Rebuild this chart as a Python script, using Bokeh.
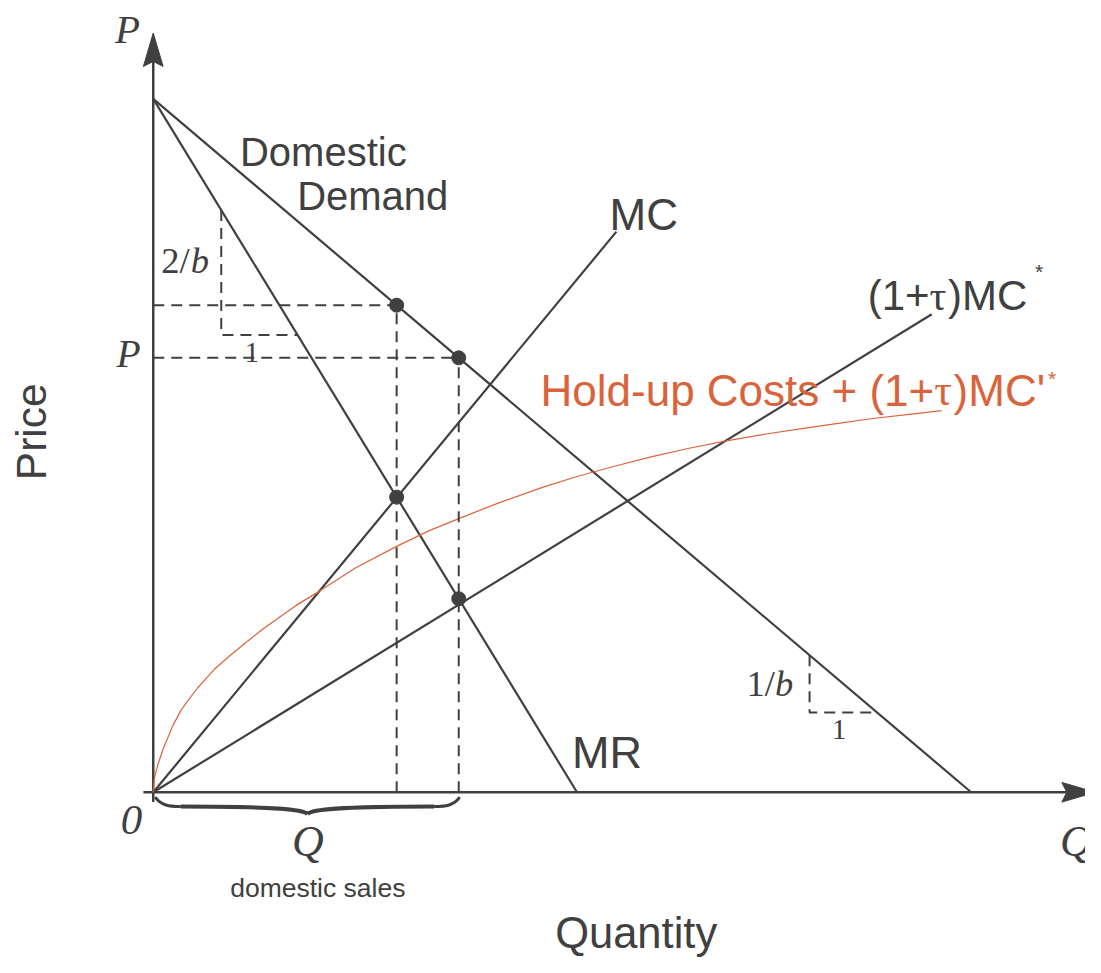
import numpy as np
from bokeh.plotting import figure
from bokeh.models import Range1d
from bokeh.core.properties import value
from bokeh.embed import file_html
from bokeh.resources import INLINE

# ---------------- data ----------------
demand_q = [0.0, 83.0]
demand_p = [70.5, 0.0]
mr_q = [0.0, 43.0]
mr_p = [70.5, 0.0]
mc_q = [0.0, 47.0]
mc_p = [0.0, 57.0]
mcs_q = [0.0, 79.0]          # (1+tau) MC*
mcs_p = [0.0, 48.6]
holdup_q = [0.0, 0.1, 0.25, 0.5, 1.0, 1.5, 2.0, 2.8, 3.5, 4.5, 5.3, 6.2, 7.8, 9.5, 11.0, 12.8, 14.5,
            16.8, 20.5, 24.7, 28.0, 31.2, 35.0, 39.5, 43.0, 47.0, 50.5, 54.5, 58.0, 62.0, 66.0,
            69.5, 73.0, 76.5, 80.0]
holdup_p = [0.0, 1.3, 2.0, 2.9, 4.4, 5.6, 6.8, 8.3, 9.3, 10.6, 11.5, 12.5, 13.9, 15.3, 16.5, 17.8, 19.0,
            20.4, 22.8, 25.0, 26.6, 27.9, 29.4, 31.0, 32.1, 33.2, 34.1, 35.0, 35.7, 36.4, 37.0,
            37.5, 38.0, 38.4, 38.8]
eq_q = [24.7, 31.0]          # MC = MR, (1+tau)MC* = MR
slope_mr = (6.9, 46.5)       # corner of the 2/b triangle
slope_dd = (66.6, 8.1)       # corner of the 1/b triangle

DARK = "#404040"
ORANGE = "#d9643c"
SANS = value("Liberation Sans")
SERIF = value("Liberation Serif")

W, H = 1085, 957
XR = (-15.5, 94.6)
YR = (-16.8, 80.5)
PX_PER_UNIT_X = W / (XR[1] - XR[0])
PX_PER_UNIT_Y = H / (YR[1] - YR[0])


def on(qs, ps, q):
    return float(np.interp(q, qs, ps))


def inv(qs, ps, p):
    return float(np.interp(p, ps[::-1], qs[::-1]))


p = figure(width=W, height=H, x_range=Range1d(*XR), y_range=Range1d(*YR),
           x_axis_type=None, y_axis_type=None, min_border=0, toolbar_location=None,
           output_backend="svg")
p.grid.visible = False
p.outline_line_color = None
p.background_fill_color = "white"
p.border_fill_color = "white"

# ---------------- axes with arrow heads ----------------
y_tip, x_tip = 77.2, 95.6
alen, ahalf, anotch = 3.4, 1.0, 2.9
p.line([0, 0], [-1.0, y_tip - anotch], line_color=DARK, line_width=2.5)
p.line([-1.0, x_tip - anotch], [0, 0], line_color=DARK, line_width=2.5)
p.patches(xs=[[0, -ahalf, 0, ahalf], [x_tip, x_tip - alen, x_tip - anotch, x_tip - alen]],
          ys=[[y_tip, y_tip - alen, y_tip - anotch, y_tip - alen], [0, ahalf, 0, -ahalf]],
          fill_color=DARK, line_color=DARK, line_width=1)

# ---------------- curves ----------------
for qs, ps in [(demand_q, demand_p), (mr_q, mr_p), (mc_q, mc_p), (mcs_q, mcs_p)]:
    p.line(qs, ps, line_color=DARK, line_width=2.2)
p.line(holdup_q, holdup_p, line_color=ORANGE, line_width=1.2)

# ---------------- dashed guides ----------------
dash = "11 7"
for q in eq_q:
    pd = on(demand_q, demand_p, q)
    p.line([0, q], [pd, pd], line_color=DARK, line_width=2, line_dash=dash)
    p.line([q, q], [0, pd], line_color=DARK, line_width=2, line_dash=dash)

for (qc, pc), (qs, ps) in [(slope_mr, (mr_q, mr_p)), (slope_dd, (demand_q, demand_p))]:
    top = on(qs, ps, qc)
    right = inv(qs, ps, pc)
    p.line([qc, qc, right], [top, pc, pc], line_color=DARK, line_width=2, line_dash=dash)

# ---------------- equilibrium dots ----------------
dot_q, dot_p = [], []
for q in eq_q:
    dot_q += [q, q]
    dot_p += [on(demand_q, demand_p, q), on(mr_q, mr_p, q)]
p.scatter(dot_q, dot_p, size=14, fill_color=DARK, line_color=DARK)

# ---------------- brace under the axis ----------------
x0, x1 = 0.2, eq_q[1] + 0.1
xm = (x0 + x1) / 2
yt, yb, ytip = -0.5, -1.45, -2.2
xq_l = x0 + 2.6
xq_r = x1 - 2.6
p.bezier(x0=[x0, x1], y0=[yt, yt], x1=[xq_l, xq_r], y1=[yb, yb],
         cx0=[x0 + 0.6, x1 - 0.6], cy0=[yb + 0.1, yb + 0.1], cx1=[x0 + 1.4, x1 - 1.4], cy1=[yb, yb],
         line_color=DARK, line_width=3.0)
p.bezier(x0=[xq_l, xq_r], y0=[yb, yb], x1=[xm, xm], y1=[ytip, ytip],
         cx0=[xm - 3.0, xm + 3.0], cy0=[yb, yb], cx1=[xm - 0.5, xm + 0.5], cy1=[yb - 0.3, yb - 0.3],
         line_color=DARK, line_width=4)


# ---------------- texts ----------------
def txt(x, y, s, size, font=SANS, color=DARK, style="normal", align="left", angle=0.0, base=True):
    # y is the alphabetic baseline; glyphs are drawn centred on the anchor, so lift it
    yy = y + (0.345 * size / PX_PER_UNIT_Y if base else 0.0)
    p.text(x=[x], y=[yy], text=[s], text_font=font, text_font_size=f"{size}px",
           text_font_style=style, text_color=color, text_align=align,
           text_baseline="alphabetic", angle=angle)


def tau_label(x, y, pre, pre_em, post, size, color):
    # sans text with a serif tau in the middle
    em = size / PX_PER_UNIT_X
    txt(x, y, pre, size, color=color)
    xt = x + pre_em * em
    txt(xt, y, "τ", size, font=SERIF, color=color)
    txt(xt + 0.44 * em, y, post, size, color=color)


txt(8.8, 63.7, "Domestic", 40)
txt(14.6, 59.2, "Demand", 40)
txt(46.3, 57.2, "MC", 44)
txt(42.5, 2.5, "MR", 45)
tau_label(72.5, 49.0, "(1+", 1.473, ")MC", 42, DARK)
txt(89.9, 52.9, "*", 21, align="center", base=False)
tau_label(39.3, 39.3, "Hold-up Costs + (1+", 8.948, ")MC'", 44, ORANGE)
txt(91.2, 42.1, "*", 21, color=ORANGE, align="center", base=False)

txt(-2.6, 76.2, "P", 41, font=SERIF, style="italic", align="center")
txt(-2.5, 43.2, "P", 39.5, font=SERIF, style="italic", align="center")
txt(-2.2, -4.3, "0", 43, font=SERIF, style="italic", align="center")
txt(92.0, -6.5, "Q", 44, font=SERIF, style="italic")
txt(15.7, -6.5, "Q", 44, font=SERIF, style="italic", align="center")

txt(0.8, 52.8, "2/", 36.5, font=SERIF)
txt(3.8, 52.8, "b", 36.5, font=SERIF, style="italic")
txt(10.0, 43.7, "1", 29.5, font=SERIF, align="center")
txt(60.2, 9.8, "1/", 36.5, font=SERIF)
txt(63.1, 9.8, "b", 36.5, font=SERIF, style="italic")
txt(69.6, 5.3, "1", 29.5, font=SERIF, align="center")

txt(16.7, -10.7, "domestic sales", 26.5, align="center")
txt(49.0, -15.8, "Quantity", 43.5, align="center")
txt(-12.35, 36.65, "Price", 42.5, align="center", angle=np.pi / 2, base=False)

open("out.html", "w").write(file_html(p, INLINE))
